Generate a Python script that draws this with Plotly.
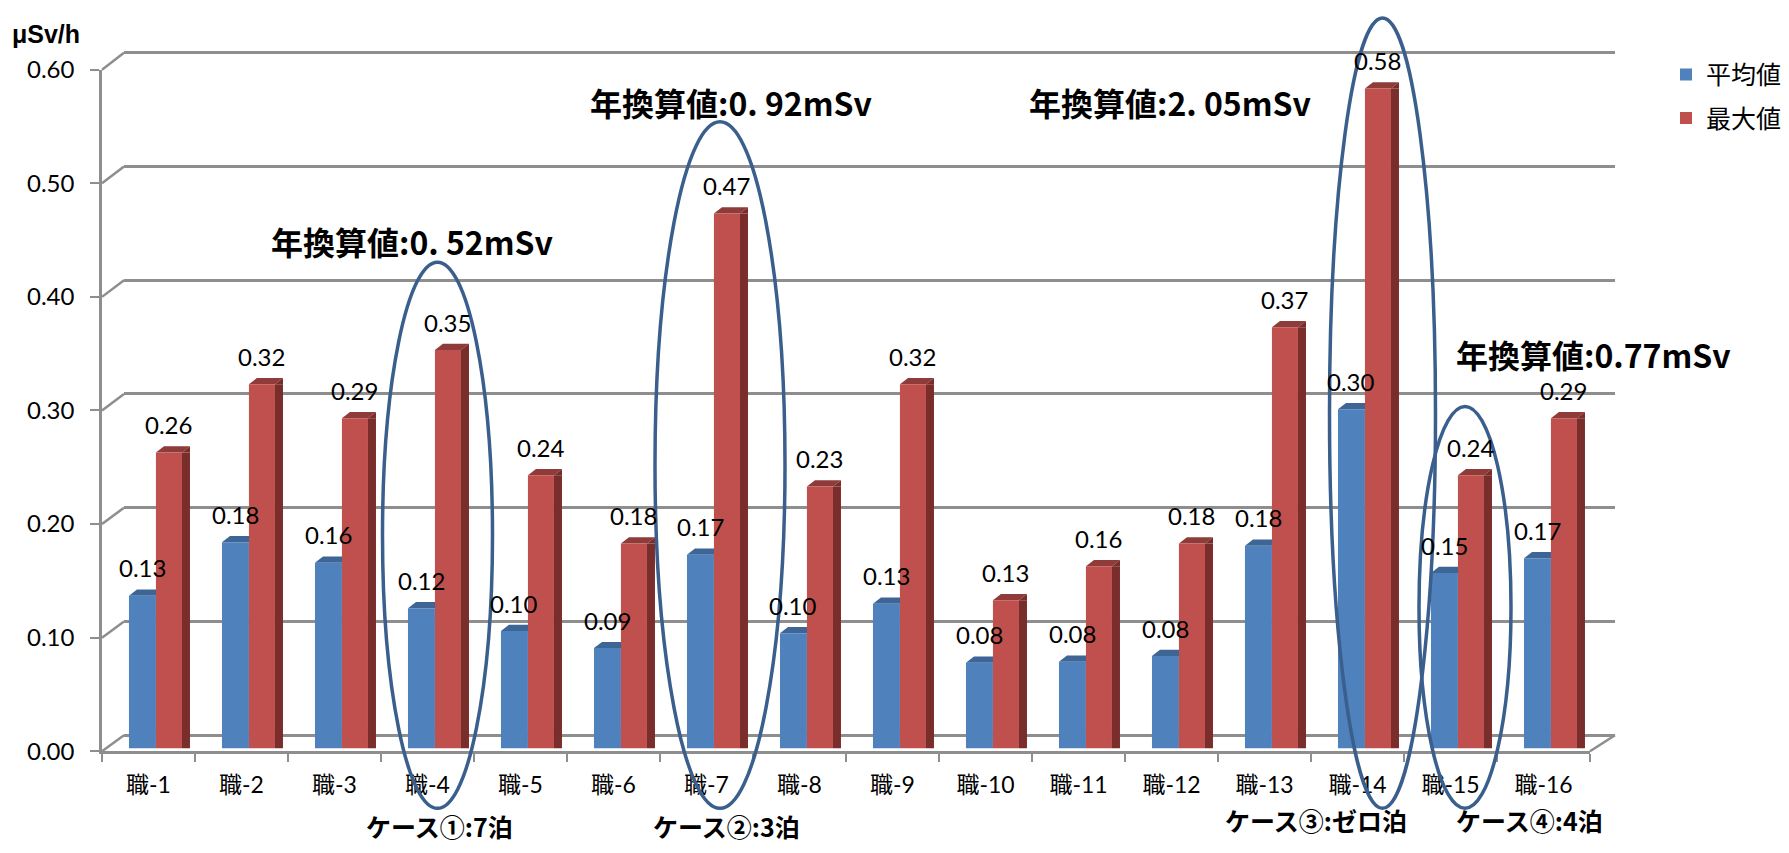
import plotly.graph_objects as go

# ---------------- data ----------------
categories = ["職-1", "職-2", "職-3", "職-4", "職-5", "職-6", "職-7", "職-8",
              "職-9", "職-10", "職-11", "職-12", "職-13", "職-14", "職-15", "職-16"]
avg_values = [0.134, 0.181, 0.163, 0.123, 0.103, 0.088, 0.170, 0.101,
              0.127, 0.0752, 0.076, 0.081, 0.178, 0.298, 0.154, 0.167]
max_values = [0.26, 0.32, 0.29, 0.35, 0.24, 0.18, 0.47, 0.23,
              0.32, 0.13, 0.16, 0.18, 0.37, 0.58, 0.24, 0.29]
series_names = ["平均値", "最大値"]
y_tick_values = [0.0, 0.1, 0.2, 0.3, 0.4, 0.5, 0.6]
y_tick_labels = ["0.00", "0.10", "0.20", "0.30", "0.40", "0.50", "0.60"]
unit_label = "μSv/h"
annual_notes = ["年換算値:0. 52mSv", "年換算値:0. 92mSv", "年換算値:2. 05mSv", "年換算値:0.77mSv"]
case_notes = ["ケース①:7泊", "ケース②:3泊", "ケース③:ゼロ泊", "ケース④:4泊"]

# ---------------- layout geometry ----------------
W, H = 1789, 853
# the photographed page shows the figure slightly squeezed vertically; map target pixels to figure pixels
SY = 853 / 885
OY = 16
def Y(t):
    return t / SY - OY
def px(xp):
    return xp / W
def py(t):
    return 1 - Y(t) / H

FRONT_L, FRONT_R = 102, 1590
FRONT_TOP, FRONT_BOT = 69, 749
BACK_L, BACK_R = 124, 1615
BACK_ZERO, BACK_TOP = 733, 52
BAR_ZERO = 746
PPU = (BACK_ZERO - BACK_TOP) / 0.6            # target pixels per unit
BAND = (FRONT_R - FRONT_L) / len(categories)  # pixels per category

BLUE_OFF, BLUE_W = -0.21, 0.29
RED_OFF, RED_W = 0.08, 0.28
DEPTH, RISE = 8, 6 / SY
LABEL_SHIFT = 27 / SY

BLUE = "#4F81BD"; BLUE_TOP = "#3D6596"
RED = "#C0504D"; RED_TOP = "#8E3B39"; RED_SIDE = "#7A2E2C"
GRID = "#8E8E8E"
ELLIPSE = "#3A5F8D"
CJK = "Noto Sans CJK JP"
NUM = "Lato, Noto Sans CJK JP"

fig = go.Figure()
fig.add_trace(go.Scatter(x=[], y=[], xaxis="x", yaxis="y", showlegend=False, hoverinfo="skip"))
fig.add_trace(go.Bar(x=categories, y=avg_values, name=series_names[0], marker_color=BLUE,
                     marker_line_width=0, offset=BLUE_OFF, width=BLUE_W,
                     xaxis="x2", yaxis="y2", legendgroup="a"))
fig.add_trace(go.Bar(x=categories, y=max_values, name=series_names[1], marker_color=RED,
                     marker_line_width=0, offset=RED_OFF, width=RED_W,
                     xaxis="x2", yaxis="y2", legendgroup="b"))
fig.add_trace(go.Bar(x=categories, y=max_values, marker_color=RED_SIDE, marker_line_width=0,
                     offset=RED_OFF + RED_W, width=DEPTH / BAND, showlegend=False,
                     xaxis="x2", yaxis="y2", hoverinfo="skip"))
fig.add_trace(go.Scatter(x=[], y=[], xaxis="x2", yaxis="y3", showlegend=False, hoverinfo="skip"))

shapes = []
annotations = []

bw = BLUE_W * BAND
rw = RED_W * BAND
label_font = dict(family="Lato", size=24, color="#000")
for i, (a, m) in enumerate(zip(avg_values, max_values)):
    common = dict(type="path", xref="x2", yref="y2", xsizemode="pixel", ysizemode="pixel",
                  line=dict(width=0), layer="between")
    shapes.append(dict(common, xanchor=i + BLUE_OFF, yanchor=a,
                       path=f"M0,0 L{DEPTH},{RISE} L{bw + DEPTH},{RISE} L{bw},0 Z", fillcolor=BLUE_TOP))
    shapes.append(dict(common, xanchor=i + RED_OFF, yanchor=m,
                       path=f"M0,0 L{DEPTH},{RISE} L{rw + DEPTH},{RISE} L{rw},0 Z", fillcolor=RED_TOP))
    shapes.append(dict(common, xanchor=i + RED_OFF, yanchor=m,
                       path=f"M{rw},0 L{rw + DEPTH},{RISE} L{rw + DEPTH},0 Z", fillcolor=RED_SIDE))
    annotations.append(dict(x=i + BLUE_OFF + BLUE_W / 2, y=a, xref="x2", yref="y2", yshift=LABEL_SHIFT,
                            text=f"{a:.2f}", showarrow=False, font=label_font))
    annotations.append(dict(x=i + RED_OFF + RED_W / 2, y=m, xref="x2", yref="y2", yshift=LABEL_SHIFT,
                            text=f"{m:.2f}", showarrow=False, font=label_font))

# left wall diagonals at each tick level, right floor edge
for v in y_tick_values:
    yf = FRONT_BOT - (FRONT_BOT - FRONT_TOP) * v / 0.6
    yb = BACK_ZERO - PPU * v
    shapes.append(dict(type="line", xref="paper", yref="paper", x0=px(FRONT_L), y0=py(yf),
                       x1=px(BACK_L), y1=py(yb), line=dict(color=GRID, width=2.5), layer="below"))
shapes.append(dict(type="line", xref="paper", yref="paper", x0=px(FRONT_R), y0=py(FRONT_BOT),
                   x1=px(BACK_R), y1=py(BACK_ZERO), line=dict(color=GRID, width=2.5), layer="below"))

# highlight ellipses
ellipses = [(382.5, 261, 492.5, 806), (655, 121, 785, 806), (1329.5, 10, 1435.5, 806), (1419, 405, 1511, 806)]
for x0, y0, x1, y1 in ellipses:
    top = min(py(y0), 1 - 2 / H)
    shapes.append(dict(type="circle", xref="paper", yref="paper", x0=px(x0), x1=px(x1),
                       y0=py(y1), y1=top, line=dict(color=ELLIPSE, width=3.5), layer="above"))

# text notes
annual_pos = [(412, 240), (731, 101), (1170, 101), (1593, 353)]
for t, (x, y) in zip(annual_notes, annual_pos):
    annotations.append(dict(x=px(x), y=py(y), xref="paper", yref="paper", text=f"<b>{t}</b>",
                            showarrow=False, xanchor="center", yanchor="middle",
                            font=dict(family=CJK, size=32, color="#000")))
case_x = [439, 726, 1316, 1529]
case_lift = [0, 0, 6, 6]
for t, x, lift in zip(case_notes, case_x, case_lift):
    annotations.append(dict(x=px(x), y=0, xref="paper", yref="paper", text=f"<b>{t}</b>",
                            showarrow=False, xanchor="center", yanchor="bottom", yshift=lift - 5,
                            borderpad=0, font=dict(family=CJK, size=25, color="#000")))
annotations.append(dict(x=px(10), y=py(33), xref="paper", yref="paper", text=f"<b>{unit_label}</b>",
                        showarrow=False, xanchor="left", yanchor="middle",
                        font=dict(family="Liberation Sans", size=25, color="#000")))

fig.update_layout(
    width=W, height=H,
    margin=dict(l=0, r=0, t=0, b=0, pad=0),
    paper_bgcolor="white", plot_bgcolor="rgba(0,0,0,0)",
    barmode="overlay", hovermode=False,
    showlegend=True,
    legend=dict(x=px(1666), y=1 - 37 / H, xanchor="left", yanchor="top", traceorder="grouped",
                tracegroupgap=8, font=dict(family=CJK, size=25, color="#000"),
                bgcolor="rgba(0,0,0,0)", borderwidth=0),
    xaxis=dict(domain=[px(BACK_L), px(BACK_R)], range=[0, 1], visible=False, fixedrange=True),
    yaxis=dict(domain=[py(740), py(45)], range=[(BACK_ZERO - 740) / PPU, (BACK_ZERO - 45) / PPU],
               tickvals=y_tick_values, showticklabels=False, ticks="", showgrid=True,
               gridcolor=GRID, gridwidth=2.5, zeroline=False, showline=False, fixedrange=True),
    xaxis2=dict(domain=[px(FRONT_L), px(FRONT_R)], anchor="y2", type="category",
                categoryorder="array", categoryarray=categories, range=[-0.5, len(categories) - 0.5],
                showline=True, linecolor=GRID, linewidth=2.5, ticks="outside", tickson="boundaries",
                ticklen=8, tickwidth=2, tickcolor=GRID, showgrid=False, zeroline=False,
                tickfont=dict(family=NUM, size=23, color="#000"), ticklabelstandoff=11, fixedrange=True),
    yaxis2=dict(domain=[py(FRONT_BOT), py(FRONT_TOP)], anchor="x2",
                range=[(BAR_ZERO - FRONT_BOT) / PPU, (BAR_ZERO - FRONT_TOP) / PPU],
                visible=False, fixedrange=True),
    yaxis3=dict(overlaying="y2", anchor="x2", side="left", range=[0, 0.6],
                tickvals=y_tick_values, ticktext=y_tick_labels, showline=True, linecolor=GRID,
                linewidth=2.5, ticks="outside", ticklen=9, tickwidth=2, tickcolor=GRID,
                showgrid=False, zeroline=False, ticklabelstandoff=11,
                tickfont=dict(family="Lato", size=24, color="#000"), fixedrange=True),
    shapes=shapes,
    annotations=annotations,
)

fig.write_html("out.html")
